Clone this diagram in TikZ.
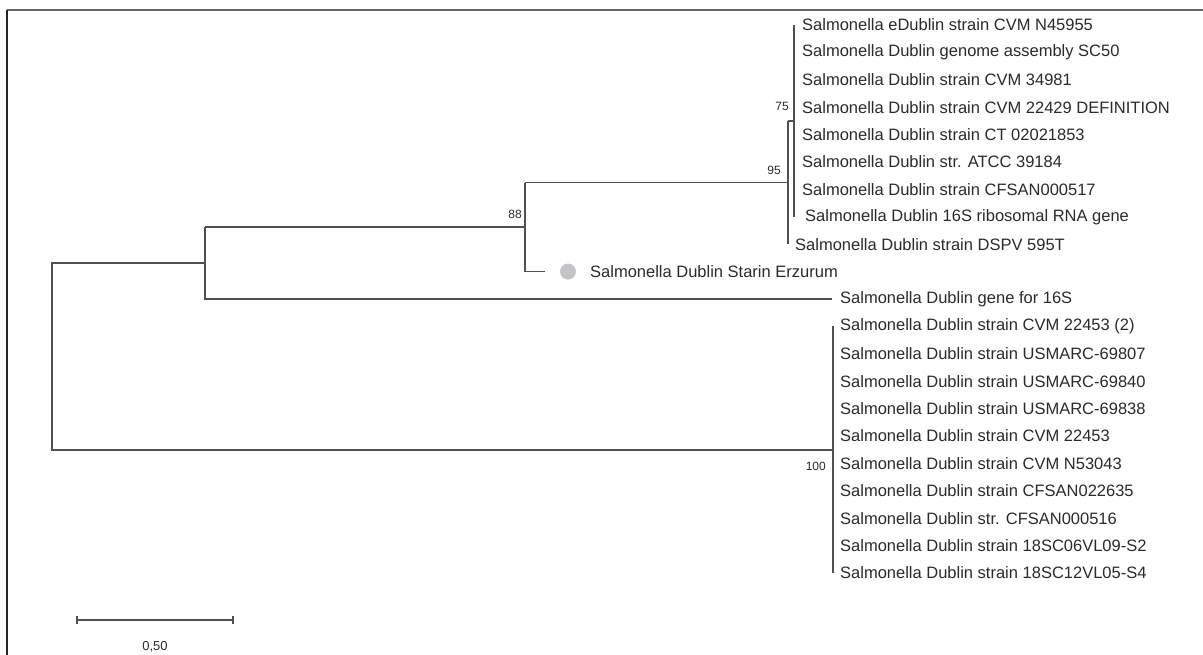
\documentclass[tikz,border=0pt]{standalone}
\usepackage{fontspec}
\setmainfont{Liberation Sans}
\definecolor{treeline}{HTML}{505050}
\definecolor{leaftext}{HTML}{2A2A2A}
\definecolor{dotgray}{HTML}{C4C4C8}
\tikzset{
  branch/.style={draw=treeline, line width=1.8pt},
  leaf/.style={anchor=west, inner sep=0pt, text=leaftext, font=\fontsize{16.5}{18}\selectfont},
  boot/.style={anchor=east, inner sep=0pt, text=leaftext, font=\fontsize{12}{13}\selectfont},
}
\begin{document}
\begin{tikzpicture}[x=1pt,y=-1pt]
\useasboundingbox (0,0) rectangle (1203,655);
% frame (top and left)
\draw[draw=black!60, line width=2pt] (1203,10) -- (7,10);
\draw[draw=black!85, line width=2pt] (7,10) -- (7,655);

% row positions
\def\rowy#1{\fpeval{25+(#1-1)*27.4}}

% leaves of clade D (75)
\node[leaf] (l1) at (802,{\rowy{1}}) {Salmonella eDublin strain CVM N45955};
\node[leaf] (l2) at (802,{\rowy{2}}) {Salmonella Dublin genome assembly SC50};
\node[leaf] (l3) at (802,{\rowy{3}}) {Salmonella Dublin strain CVM 34981};
\node[leaf] (l4) at (802,{\rowy{4}}) {Salmonella Dublin strain CVM 22429 DEFINITION};
\node[leaf] (l5) at (802,{\rowy{5}}) {Salmonella Dublin strain CT 02021853};
\node[leaf] (l6) at (802,{\rowy{6}}) {Salmonella Dublin str. ATCC 39184};
\node[leaf] (l7) at (802,{\rowy{7}}) {Salmonella Dublin strain CFSAN000517};
\node[leaf] (l8) at (805,{\rowy{8}}) {Salmonella Dublin 16S ribosomal RNA gene};
\node[leaf] (l9) at (795,{\rowy{9}}) {Salmonella Dublin strain DSPV 595T};
\node[circle, fill=dotgray, inner sep=0pt, minimum size=16pt] (dot) at (568,{\rowy{10}}) {};
\node[leaf] (l10) at (590,{\rowy{10}}) {Salmonella Dublin Starin Erzurum};
\node[leaf] (l11) at (840,{\rowy{11}}) {Salmonella Dublin gene for 16S};
% clade E (100)
\node[leaf] (l12) at (840,{\rowy{12}}) {Salmonella Dublin strain CVM 22453 (2)};
\node[leaf] (l13) at (840,{\rowy{13}}) {Salmonella Dublin strain USMARC-69807};
\node[leaf] (l14) at (840,{\rowy{14}}) {Salmonella Dublin strain USMARC-69840};
\node[leaf] (l15) at (840,{\rowy{15}}) {Salmonella Dublin strain USMARC-69838};
\node[leaf] (l16) at (840,{\rowy{16}}) {Salmonella Dublin strain CVM 22453};
\node[leaf] (l17) at (840,{\rowy{17}}) {Salmonella Dublin strain CVM N53043};
\node[leaf] (l18) at (840,{\rowy{18}}) {Salmonella Dublin strain CFSAN022635};
\node[leaf] (l19) at (840,{\rowy{19}}) {Salmonella Dublin str. CFSAN000516};
\node[leaf] (l20) at (840,{\rowy{20}}) {Salmonella Dublin strain 18SC06VL09-S2};
\node[leaf] (l21) at (840,{\rowy{21}}) {Salmonella Dublin strain 18SC12VL05-S4};

% internal node coordinates
\coordinate (Dtop) at (794,{\rowy{1}});
\coordinate (Dbot) at (794,{\rowy{8}});
\coordinate (Dmid) at (794,{(\rowy{1}+\rowy{8})/2});
\coordinate (Ctop) at (788,{(\rowy{1}+\rowy{8})/2});
\coordinate (Cbot) at (788,{\rowy{9}});
\coordinate (Cmid) at (788,{((\rowy{1}+\rowy{8})/2+\rowy{9})/2});
\coordinate (Btop) at (525,{((\rowy{1}+\rowy{8})/2+\rowy{9})/2});
\coordinate (Bbot) at (525,{\rowy{10}});
\coordinate (Bmid) at (525,227);
\coordinate (Atop) at (205,227);
\coordinate (Abot) at (205,{\rowy{11}});
\coordinate (Amid) at (205,263);
\coordinate (Erz) at (545,{\rowy{10}});
\coordinate (g16) at (832,{\rowy{11}});
\coordinate (Etop) at (833,{\rowy{12}});
\coordinate (Ebot) at (833,{\rowy{21}});
\coordinate (Emid) at (833,{(\rowy{12}+\rowy{21})/2});
\coordinate (Rtop) at (52,263);
\coordinate (Rbot) at (52,{(\rowy{12}+\rowy{21})/2});

% branches
\draw[branch] (Dtop) -- (Dbot);
\draw[branch] (Ctop) -- (Dmid);
\draw[branch] (Ctop) -- (Cbot);
\draw[branch] (Btop) -- (Cmid);
\draw[branch] (Btop) -- (Bbot) -- (Erz);
\draw[branch] (Atop) -- (Bmid);
\draw[branch] (Atop) -- (Abot) -- (g16);
\draw[branch] (Etop) -- (Ebot);
\draw[branch] (Amid) -- (Rtop) -- (Rbot) -- (Emid);

% bootstrap values
\node[boot] (b75) at (789,106) {75};
\node[boot] (b95) at (781,170) {95};
\node[boot] (b88) at (522,214) {88};
\node[boot] (b100) at (826,466) {100};

% scale bar
\coordinate (s1) at (77,620);
\coordinate (s2) at (233,620);
\draw[branch] (s1) -- (s2);
\draw[branch] ([yshift=-4pt]s1) -- ([yshift=4pt]s1);
\draw[branch] ([yshift=-4pt]s2) -- ([yshift=4pt]s2);
\node[inner sep=0pt, text=leaftext, font=\fontsize{13}{14}\selectfont] (scale) at (155,647) {0,50};
\end{tikzpicture}
\end{document}
